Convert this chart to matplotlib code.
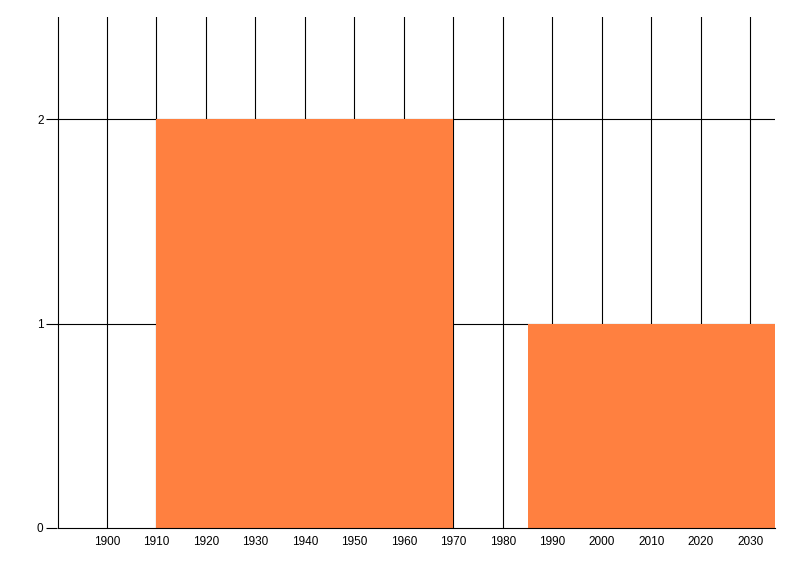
import matplotlib
matplotlib.use("Agg")
import matplotlib.pyplot as plt

# Data
bar_starts = [1910, 1985]
bar_ends = [1970, 2035]
bar_values = [2, 1]
x_ticks = [1900, 1910, 1920, 1930, 1940, 1950, 1960, 1970, 1980, 1990, 2000, 2010, 2020, 2030]
x_grid = [1890] + x_ticks
y_ticks = [0, 1, 2]

plt.rcParams['font.family'] = ['Liberation Sans', 'DejaVu Sans']

fig = plt.figure(figsize=(8, 5.76), dpi=100)
ax = fig.add_axes([57.5 / 800, 1 - 528 / 576, (775 - 57.5) / 800, (528 - 17) / 576])

widths = [e - s for s, e in zip(bar_starts, bar_ends)]
ax.bar(bar_starts, bar_values, width=widths, align='edge', color='#FF8040', zorder=3, linewidth=0)

for xv in x_grid:
    ax.axvline(xv, color='black', linewidth=0.8, zorder=1)
for yv in y_ticks[1:]:
    ax.axhline(yv, color='black', linewidth=0.8, zorder=1)

ax.set_xlim(1890, 2035)
ax.set_ylim(0, 2.5)
ax.set_xticks(x_ticks)
ax.set_xticklabels([str(v) for v in x_ticks])
ax.set_yticks(y_ticks)
ax.set_yticklabels([str(v) for v in y_ticks])
ax.tick_params(axis='x', length=0, pad=6, labelsize=8.5)
ax.tick_params(axis='y', length=8, width=0.8, pad=2, labelsize=8.5)

for s in ['top', 'right']:
    ax.spines[s].set_visible(False)
ax.spines['left'].set_visible(False)
ax.spines['bottom'].set_linewidth(0.8)
ax.spines['bottom'].set_zorder(4)

fig.savefig('out.png', dpi=100)
